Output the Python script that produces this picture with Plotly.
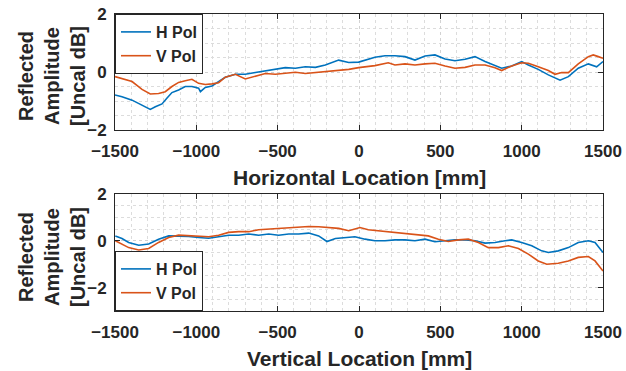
import plotly.graph_objects as go

# ---- data ----
top_h_x = [-1500, -1457, -1395, -1334, -1283, -1252, -1211, -1180, -1150, -1109, -1068, -1027, -986, -975, -945,
           -904, -863, -822, -760, -699, -637, -576, -514, -453, -391, -330, -268, -207, -125, -63, -2,
           37, 98, 160, 221, 283, 344, 406, 467, 529, 590, 652, 713, 775, 836, 877, 939, 1000, 1041, 1102,
           1164, 1236, 1287, 1348, 1410, 1461, 1500]
top_h_y = [-0.79, -0.85, -0.97, -1.14, -1.29, -1.2, -1.1, -0.9, -0.71, -0.62, -0.5, -0.5, -0.56, -0.68, -0.53,
           -0.48, -0.33, -0.18, -0.08, -0.08, -0.02, 0.03, 0.09, 0.15, 0.13, 0.18, 0.16, 0.24, 0.41, 0.33, 0.34,
           0.41, 0.51, 0.56, 0.56, 0.53, 0.41, 0.55, 0.59, 0.45, 0.39, 0.44, 0.53, 0.36, 0.21, 0.13, 0.21, 0.36, 0.24, 0.09,
           -0.1, -0.28, -0.16, 0.13, 0.28, 0.18, 0.36]

top_v_x = [-1500, -1457, -1395, -1334, -1283, -1232, -1191, -1150, -1109, -1068, -1027, -986, -945, -904, -863,
           -822, -760, -699, -637, -576, -514, -453, -391, -330, -268, -207, -125, -63, -2,
           37, 98, 180, 221, 283, 344, 406, 467, 529, 590, 652, 713, 775, 836, 877, 939, 1000, 1041, 1102,
           1164, 1205, 1246, 1287, 1348, 1410, 1440, 1471, 1500]
top_v_y = [-0.16, -0.22, -0.33, -0.6, -0.76, -0.74, -0.68, -0.5, -0.36, -0.3, -0.25, -0.39, -0.43, -0.41, -0.37,
           -0.18, -0.08, -0.24, -0.14, -0.05, -0.08, -0.05, -0.01, -0.05, -0.02, 0.01, 0.07, 0.09, 0.15,
           0.18, 0.22, 0.32, 0.24, 0.28, 0.24, 0.28, 0.3, 0.21, 0.13, 0.16, 0.24, 0.24, 0.15, 0.05, 0.21, 0.32, 0.3, 0.18,
           0.05, -0.08, -0.02, -0.02, 0.28, 0.53, 0.59, 0.53, 0.47]

bot_h_x = [-1498, -1457, -1416, -1354, -1293, -1232, -1170, -1109, -1047, -986, -924, -863, -801, -740, -678,
           -617, -555, -494, -432, -371, -309, -248, -197, -145, -84, -25, 37, 98, 160, 221, 283, 344, 406,
           467, 529, 590, 652, 713, 775, 836, 898, 939, 1000, 1062, 1123, 1164, 1225, 1287, 1348, 1410, 1451, 1500]
bot_h_y = [0.21, 0.1, -0.07, -0.19, -0.14, 0.07, 0.21, 0.21, 0.19, 0.14, 0.11, 0.17, 0.24, 0.24, 0.29,
           0.24, 0.29, 0.24, 0.29, 0.29, 0.33, 0.21, -0.03, 0.1, 0.14, 0.17, 0.07, 0.0, 0.0, 0.04, 0.04, 0.0, 0.07,
           -0.04, 0.0, 0.04, 0.04, 0.0, -0.1, -0.07, 0.0, 0.04, -0.07, -0.21, -0.43, -0.5, -0.43, -0.29, -0.07, 0.0, -0.07, -0.5]

bot_v_x = [-1498, -1457, -1416, -1354, -1293, -1232, -1170, -1109, -1047, -986, -924, -863, -801, -740, -678,
           -617, -555, -494, -432, -371, -309, -248, -186, -125, -63, -2, 6, 57, 119, 180, 242, 303, 365, 426,
           488, 549, 611, 672, 734, 795, 857, 918, 980, 1041, 1102, 1154, 1225, 1287, 1348, 1410, 1451, 1500]
bot_v_y = [0.0, -0.14, -0.29, -0.39, -0.33, -0.07, 0.14, 0.24, 0.21, 0.21, 0.17, 0.24, 0.36, 0.39, 0.39,
           0.47, 0.5, 0.53, 0.57, 0.61, 0.61, 0.6, 0.57, 0.53, 0.43, 0.57, 0.57, 0.47, 0.43, 0.39, 0.33, 0.29, 0.24, 0.21,
           0.07, -0.03, 0.04, 0.07, -0.07, -0.29, -0.29, -0.21, -0.33, -0.57, -0.86, -1.0, -0.96, -0.86, -0.71, -0.67, -0.86, -1.29]

series_names = ["H Pol", "V Pol"]
x_title_top = "Horizontal Location [mm]"
x_title_bot = "Vertical Location [mm]"
y_title = "Reflected<br>Amplitude<br>[Uncal dB]"

assert len(top_h_x) == len(top_h_y) and len(top_v_x) == len(top_v_y)
assert len(bot_h_x) == len(bot_h_y) and len(bot_v_x) == len(bot_v_y)

# ---- styling ----
W, H = 626, 371
BLUE = "#0072BD"
ORANGE = "#D95319"
INK = "#262626"
FONT = "Liberation Sans, Arial, sans-serif"

def px_x(p):
    return p / W

def px_y(p):
    return 1 - p / H

fig = go.Figure()
fig.add_trace(go.Scatter(x=top_h_x, y=top_h_y, mode="lines", name=series_names[0],
                         line=dict(color=BLUE, width=1.6), xaxis="x", yaxis="y", legend="legend"))
fig.add_trace(go.Scatter(x=top_v_x, y=top_v_y, mode="lines", name=series_names[1],
                         line=dict(color=ORANGE, width=1.6), xaxis="x", yaxis="y", legend="legend"))
fig.add_trace(go.Scatter(x=bot_h_x, y=bot_h_y, mode="lines", name=series_names[0],
                         line=dict(color=BLUE, width=1.6), xaxis="x2", yaxis="y2", legend="legend2"))
fig.add_trace(go.Scatter(x=bot_v_x, y=bot_v_y, mode="lines", name=series_names[1],
                         line=dict(color=ORANGE, width=1.6), xaxis="x2", yaxis="y2", legend="legend2"))

tickfont = dict(family=FONT, size=17, color=INK, weight="bold")

def xaxis(anchor):
    return dict(domain=[px_x(115), px_x(603)], anchor=anchor, range=[-1500, 1500], automargin=False,
                tick0=0, dtick=500, ticks="inside", ticklen=5, tickcolor=INK,
                showline=True, linecolor=INK, linewidth=1, mirror="ticks",
                showgrid=True, gridcolor="#d2d2d2", griddash="dot", gridwidth=1,
                minor=dict(dtick=100, tick0=0, showgrid=True, gridcolor="#dcdcdc", griddash="dot", gridwidth=1),
                zeroline=False, tickfont=tickfont, ticklabelstandoff=6)

def yaxis(anchor, dom, rng):
    return dict(domain=dom, anchor=anchor, range=rng, tick0=0, dtick=2, automargin=False,
                ticks="inside", ticklen=5, tickcolor=INK,
                showline=True, linecolor=INK, linewidth=1, mirror="ticks",
                showgrid=True, gridcolor="#d2d2d2", griddash="dot", gridwidth=1,
                minor=dict(dtick=0.5, tick0=0, showgrid=True, gridcolor="#dcdcdc", griddash="dot", gridwidth=1),
                zeroline=False, tickfont=tickfont, ticklabelstandoff=4)

legend_style = dict(bgcolor="white", bordercolor=INK, borderwidth=1,
                    font=dict(family=FONT, size=16, color=INK, weight="bold"),
                    xanchor="left", itemwidth=30, tracegroupgap=0)

fig.update_layout(
    width=W, height=H, margin=dict(l=0, r=0, t=0, b=0, autoexpand=False),
    paper_bgcolor="white", plot_bgcolor="white",
    xaxis=xaxis("y"),
    yaxis=yaxis("x", [px_y(130), px_y(14)], [-2, 2]),
    xaxis2=xaxis("y2"),
    yaxis2=yaxis("x2", [px_y(311), px_y(194)], [-3, 2]),
    legend=dict(x=px_x(115), y=px_y(14), yanchor="top", **legend_style),
    legend2=dict(x=px_x(115), y=px_y(311), yanchor="bottom", **legend_style),
    showlegend=True,
)

title_font = dict(family=FONT, size=21, color=INK, weight="bold")
ytitle_font = dict(family=FONT, size=20, color=INK, weight="bold")
annots = [
    dict(text=x_title_top, x=px_x(359), y=px_y(178), xref="paper", yref="paper",
         xanchor="center", yanchor="middle", showarrow=False, font=title_font),
    dict(text=x_title_bot, x=px_x(359), y=px_y(358), xref="paper", yref="paper",
         xanchor="center", yanchor="middle", showarrow=False, font=title_font),
    dict(text=y_title, x=px_x(52), y=px_y(76), xref="paper", yref="paper", textangle=-90,
         xanchor="center", yanchor="middle", showarrow=False, font=ytitle_font),
    dict(text=y_title, x=px_x(52), y=px_y(257), xref="paper", yref="paper", textangle=-90,
         xanchor="center", yanchor="middle", showarrow=False, font=ytitle_font),
]
fig.update_layout(annotations=annots)

fig.write_html("out.html", config={"displayModeBar": False},
               post_script="document.body.style.margin='0';document.body.style.overflow='hidden';")
